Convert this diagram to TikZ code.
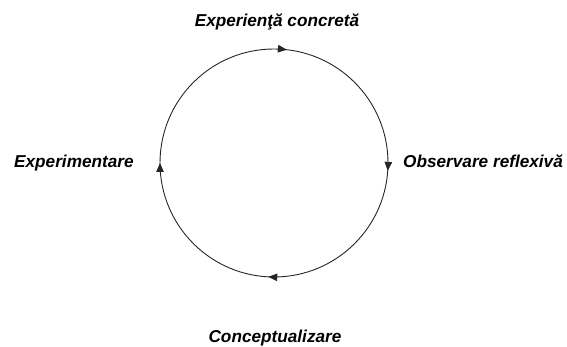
\documentclass[tikz,border=0pt]{standalone}
\usepackage{fontspec}
\setmainfont{Liberation Sans}
\usetikzlibrary{arrows.meta,decorations.markings}
\tikzset{
  lbl/.style={font=\fontsize{17.2}{20}\selectfont\bfseries\itshape, inner sep=0pt},
  cyc/.style={draw=black!85, line width=0.9pt,
    postaction={decorate},
    decoration={markings,
      mark=at position 0.018 with {\arrow{Triangle[length=9pt,width=7.5pt]}},
      mark=at position 0.261 with {\arrow{Triangle[length=9pt,width=7.5pt]}},
      mark=at position 0.508 with {\arrow{Triangle[length=9pt,width=7.5pt]}},
      mark=at position 0.75 with {\arrow{Triangle[length=9pt,width=7.5pt]}}}}
}
\begin{document}
\begin{tikzpicture}[x=1pt,y=1pt]
\useasboundingbox (0,0) rectangle (567,346);
\coordinate (c) at (274,183);
\draw[cyc] (c) ++(90:114) arc[start angle=90, end angle=-270, radius=114];
\node[lbl, anchor=base] (top) at (277,319) {Experienţă concretă};
\node[lbl, anchor=base west] (right) at (403,179) {Observare reflexivă};
\node[lbl, anchor=base west] (left) at (14,179) {Experimentare};
\node[lbl, anchor=base] (bottom) at (275,4) {Conceptualizare};
\end{tikzpicture}
\end{document}
